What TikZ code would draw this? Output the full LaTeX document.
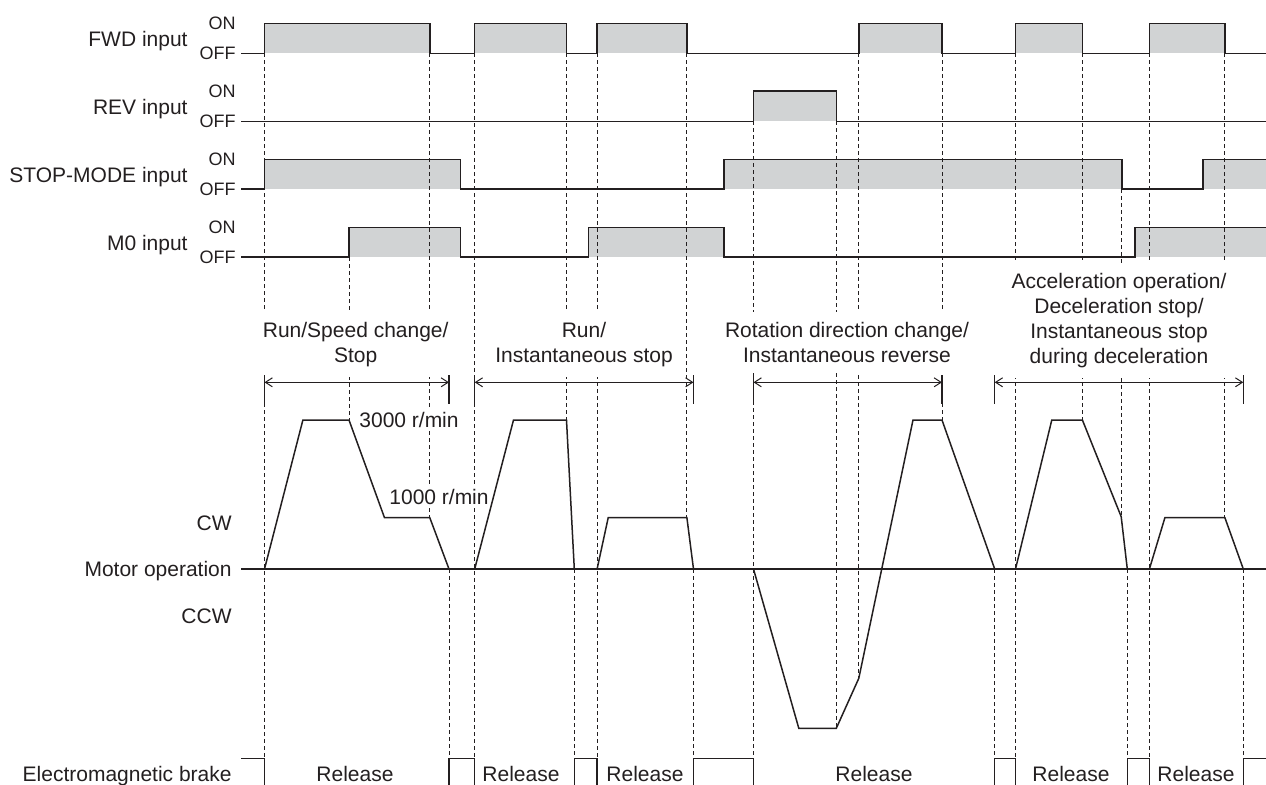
\documentclass[tikz,border=0pt]{standalone}
\usepackage{fontspec}
\setmainfont{Liberation Sans}
\usetikzlibrary{arrows.meta}

\definecolor{ink}{RGB}{35,31,32}
\definecolor{pulsegray}{RGB}{209,211,212}

\tikzstyle{signal}   = [line width=0.75pt, draw=ink, line join=miter]
\tikzstyle{guide}    = [line width=0.45pt, draw=ink, dash pattern=on 2pt off 1.5pt]
\tikzstyle{dimtick}  = [line width=0.55pt, draw=ink]
\tikzstyle{dimline}  = [line width=0.5pt, draw=ink, {Straight Barb[length=3.5pt,width=4.5pt]}-{Straight Barb[length=3.5pt,width=4.5pt]}]
\tikzstyle{sigtext}  = [font=\fontsize{10.5}{12.5}\selectfont, text=ink, inner sep=0pt]
\tikzstyle{onoff}    = [font=\fontsize{9}{10}\selectfont, text=ink, inner sep=0pt, anchor=east]
\tikzstyle{modetext} = [sigtext, align=center, anchor=base, fill=white, inner xsep=4pt, inner ysep=5pt]
\tikzstyle{speedtext}= [sigtext, anchor=base west, fill=white, inner sep=1.5pt]

\begin{document}
\begin{tikzpicture}[x=0.5pt, y=-0.5pt]
\useasboundingbox (0,0) rectangle (1266,784);

% grey pulses
\foreach \a/\b in {264.5/429.8, 474.7/566.5, 597.1/686.9, 858.8/942, 1015.5/1082.4, 1149.4/1224.9}
  \fill[pulsegray] (\a,23.3) rectangle (\b,53.3);
\fill[pulsegray] (753.5,91) rectangle (836.3,121.3);
\foreach \a/\b in {264.5/460.4, 724.1/1122, 1202.9/1266}
  \fill[pulsegray] (\a,159.3) rectangle (\b,189);
\foreach \a/\b in {349/460.4, 588.6/724.1, 1135.1/1266}
  \fill[pulsegray] (\a,227.3) rectangle (\b,257);

% dashed timing guides
\foreach \x/\ya/\yb in {264.5/53.3/758.3, 349/257/420, 429.8/53.3/517.7, 449/569/758.3,
    474.7/53.3/758.3, 566.5/53.3/420, 574.3/569/758.3, 597.1/53.3/758.3,
    686.9/53.3/517.7, 693.5/569/758.3, 753.5/121.3/758.3, 836.3/121.3/728.3,
    858.8/53.3/678.3, 942/53.3/420, 994.7/569/758.3, 1015.5/53.3/758.3,
    1082.4/53.3/420, 1121.5/189/517, 1127.3/569/758.3, 1149.4/53.3/758.3,
    1224.9/53.3/517.7, 1243.3/569/758.3}
  \draw[guide] (\x,\ya) -- (\x,\yb);

% signal names
\node[sigtext, anchor=base east] (fwd)   at (188,46.8)  {FWD input};
\node[sigtext, anchor=base east] (rev)   at (188,114.8) {REV input};
\node[sigtext, anchor=base east] (stopm) at (188,182.6) {STOP-MODE input};
\node[sigtext, anchor=base east] (mzero) at (188,250.4) {M0 input};
\foreach \n/\on in {fwd/23.3, rev/91, stopm/159.3, mzero/227.3} {
  \node[onoff] (\n on)  at (236,\on)    {ON};
  \node[onoff] (\n off) at (236,\on+30) {OFF};
}

% operation labels (base = last line)
\node[modetext] (runspeed) at (355.7,362.7) {Run/Speed change/\\Stop};
\node[modetext] (runinst)  at (584,362.7)   {Run/\\Instantaneous stop};
\node[modetext] (rotrev)   at (847,362.7)   {Rotation direction change/\\Instantaneous reverse};
\node[modetext] (accdec)   at (1119,363.5)  {Acceleration operation/\\Deceleration stop/\\Instantaneous stop\\during deceleration};

% speed labels
\node[speedtext] (highspeed) at (356,427)   {3000 r/min};
\node[speedtext] (lowspeed)  at (386,504.3) {1000 r/min};

% motor and brake labels
\node[sigtext, anchor=base east] (cw)    at (232,530)   {CW};
\node[sigtext, anchor=base east] (motor) at (232,576.5) {Motor operation};
\node[sigtext, anchor=base east] (ccw)   at (232,623.3) {CCW};
\node[sigtext, anchor=base east] (brake) at (232,781.5) {Electromagnetic brake};
\foreach \x [count=\i] in {355,521,645,874,1071,1196}
  \node[sigtext, anchor=base] (release\i) at (\x,781.5) {Release};

% dimension arrows
\foreach \x in {264.5, 449, 474.7, 693.5, 753.5, 942, 994.7, 1243.3}
  \draw[dimtick] (\x,375) -- (\x,404);
\foreach \a/\b in {264.5/449, 474.7/693.5, 753.5/942, 994.7/1243.3}
  \draw[dimline] (\a,382.3) -- (\b,382.3);

% input signals
\draw[signal] (241,53.3)
  \foreach \a/\b in {264.5/429.8, 474.7/566.5, 597.1/686.9, 858.8/942, 1015.5/1082.4, 1149.4/1224.9}
    { -- (\a,53.3) -- (\a,23.3) -- (\b,23.3) -- (\b,53.3) } -- (1266,53.3);
\draw[signal] (241,121.3) -- (753.5,121.3) -- (753.5,91) -- (836.3,91) -- (836.3,121.3) -- (1266,121.3);
\draw[signal] (241,189)
  \foreach \a/\b in {264.5/460.4, 724.1/1122}
    { -- (\a,189) -- (\a,159.3) -- (\b,159.3) -- (\b,189) } -- (1202.9,189) -- (1202.9,159.3) -- (1266,159.3);
\draw[signal] (241,257)
  \foreach \a/\b in {349/460.4, 588.6/724.1}
    { -- (\a,257) -- (\a,227.3) -- (\b,227.3) -- (\b,257) } -- (1135.1,257) -- (1135.1,227.3) -- (1266,227.3);

% motor operation
\draw[signal] (241,569) -- (1266,569);
\draw[signal] (264.5,569) -- (302.9,420) -- (349,420) -- (384.5,517.7) -- (429.8,517.7) -- (449,569);
\draw[signal] (474.7,569) -- (513.5,420) -- (566.5,420) -- (574.3,569);
\draw[signal] (597.1,569) -- (608.2,517.7) -- (686.9,517.7) -- (693.5,569);
\draw[signal] (753.5,569) -- (798.8,728.3) -- (836.3,728.3) -- (858.8,678.3) -- (913,420) -- (942,420) -- (994.7,569);
\draw[signal] (1015.5,569) -- (1051.8,420) -- (1082.4,420) -- (1121.2,516.7) -- (1127.3,569);
\draw[signal] (1149.4,569) -- (1164.9,517.7) -- (1224.9,517.7) -- (1243.3,569);

% electromagnetic brake
\draw[signal] (241,758.3) -| (264.5,790);
\foreach \a/\b in {449/474.7, 574.3/597.1, 693.5/753.5, 994.7/1015.5, 1127.3/1149.4}
  \draw[signal] (\a,790) |- (\b,758.3) -- (\b,790);
\draw[signal] (1243.3,790) |- (1266,758.3);

\end{tikzpicture}
\end{document}
